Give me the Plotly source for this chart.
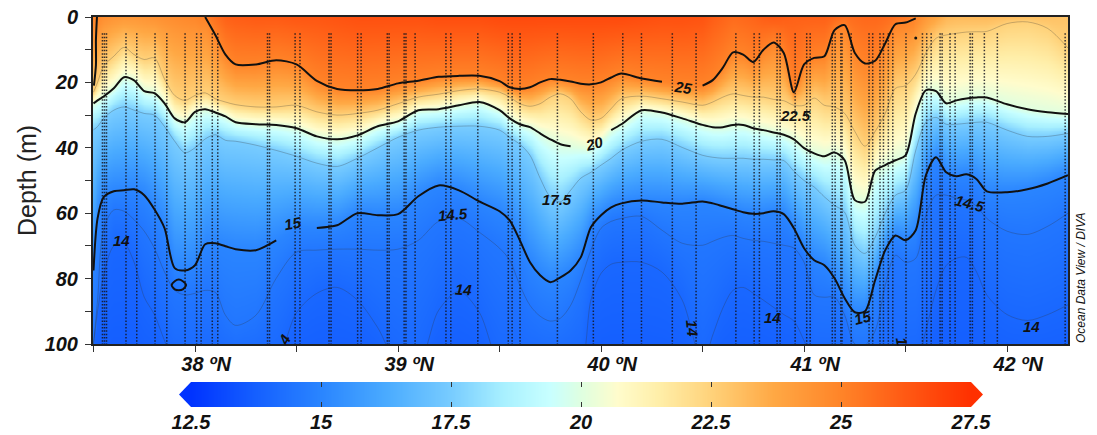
import numpy as np
import plotly.graph_objects as go

W, H = 1097, 435
lat_nodes = [37.50,37.52,37.55,37.60,37.65,37.70,37.75,37.80,37.85,37.90,37.95,38.00,
             38.05,38.10,38.15,38.20,
             38.30,38.40,38.50,38.60,38.70,38.80,38.90,39.00,39.10,39.20,39.30,
             39.40,39.50,
             39.55,39.60,39.65,39.70,39.75,39.80,39.85,39.90,39.95,40.00,40.05,40.10,
             40.20,40.30,40.40,40.50,
             40.55,40.60,40.65,40.70,40.75,40.80,40.85,40.90,40.95,41.00,41.05,41.10,41.15,41.20,
             41.25,41.30,41.35,41.40,41.45,41.50,41.55,41.60,41.65,41.70,41.75,41.80,41.85,41.90,
             42.00,42.10,42.20,42.30]
sst = [25,24.9,24.6,24.4,24.3,24.3,24.4,24.5,24.6,24.7,24.8,24.9,
       25.2,25.6,26,26.1,
       26.2,26.2,26.3,26.3,26.4,26.5,26.5,26.5,26.5,26.6,26.6,
       26.6,26.7,
       26.7,26.7,26.7,26.7,26.7,26.7,26.7,26.7,26.7,26.7,26.7,26.7,
       26.6,26.5,26.5,26.4,
       26.1,25.9,25.7,25.8,25.9,26.1,26.2,26.1,26,26,26,26,25.8,25.6,
       25.7,25.8,25.8,25.7,25.5,25.3,24.9,24.3,23.8,23.3,23.2,23.2,23.2,23.2,
       23.1,23,23,22.9]
d25 = [0,0,0,0,0,0,0,0,0,0,0,0,
       0,5.5,11.5,14.5,
       14.5,13.2,14.5,19.5,22,22.4,22,20.3,19.5,18.3,18,
       18,19.6,
       21.5,22,21.5,20,19,19.2,19.7,20.4,20.6,20,18.5,17.3,
       18.8,19.8,20.7,21,
       19.3,15.5,10.8,11.5,13.8,10,7.8,11,23,14.5,12.5,12,4,2.5,
       11,14.2,13.4,8,2.2,1.7,0.4,0,0,0,0,0,0,0,
       0,0,0,0]
d225 = [23,20,15,12,9.3,11.5,13,12.5,19,24,25.5,24,
        23.2,25,26,26.8,
        27.5,27.5,27,29,30,29.5,28.5,26.5,24.5,23.6,22.5,
        22,23,
        24.5,26.5,27.3,26.5,24.5,23.5,25,29,31.5,31,28,25,
        24.2,25,26,27,
        26,24.5,23.5,24,24.5,24.5,25.2,25.6,27,27,24.8,27,27.5,29.5,
        35,39.5,35,29.5,21.8,21,17.5,11,6.5,5.5,5,4.6,4.5,4.4,
        2,1.5,3.5,9.5]
d20 = [26.4,25.5,24.3,21.8,18.4,19.4,22.7,23.3,26.4,31,32.2,29,
       28.2,29.2,30.4,32.2,
       32.8,33,34,36.5,37.4,36.2,33.4,31.9,28.5,28.2,27,
       26,28.5,
       31,32.8,33.7,35.6,37.4,38.9,39.5,40,40.5,37.7,34.6,32.8,
       28.5,29.2,31,33,
       33.7,33.7,33,33,34,34.6,35.3,36,37.4,40.1,41.7,42.6,41.4,43.8,
       56,56.5,47,45.3,43.8,42.3,29.5,22.4,22.7,26.4,25.5,24.9,24.6,24.6,
       26.7,28.2,29.1,29.7]
d175 = [34.5,33.5,31,28.5,27.5,28.5,29.5,30,33.5,38,41.5,40,
        37.3,36,37.7,38,
        39.2,40.8,42.6,44.7,45.7,43.2,40,36.8,34.6,33.7,33.4,
        33.4,34.6,
        36.8,38.9,42.3,49.3,55,56.5,53,49.3,47.5,45.3,43.2,40.8,
        38,37.4,39.9,42.3,
        42.9,43.2,43.2,43.2,43.5,43.5,43.7,43.9,47.2,50,52,55,57.6,59.7,
        69.8,72.3,67.4,60,54.5,53,40.8,32.2,30.7,32.8,32.8,32.5,32.2,32.2,
        34.6,36.5,36.5,35.6]
d15 = [77.5,61.6,55.1,53.3,53,52.7,54.5,58.8,64.6,76.8,77.5,75.9,
       69.5,69.2,70.1,71,
       71.3,68.3,64.3,64.5,63.7,60,60.6,60.3,54.8,51.5,53,
       56.4,59.4,
       62.2,68.3,75,79,81.1,79.6,77.5,73.5,64.3,60.6,58.2,57,
       56.1,56.7,57.1,56.4,
       57,57.9,58.8,59.7,60.2,60,59.4,60.3,64.6,70.7,74.4,75.9,79.9,86,
       90.3,90,80.5,71.3,66.8,68.3,65.2,48.4,42.9,47.5,48.7,48.1,49.6,53.3,
       53.6,52.7,50.9,48.4]
d145 = [100,86.6,65,59,59.4,62,65.5,70.7,78,83.6,85,84.5,
        83.6,84.2,91.2,94.3,
        91.2,79.9,71.9,71.3,71,71,71.3,71,68.3,62.5,61.6,
        65.8,70.7,
        74.4,82,88.2,91.5,93,92.1,88.2,80.5,71.3,64.6,62.5,61.6,
        61,65.2,69.2,69.8,
        68.6,67.4,66.8,67.7,68.3,68.6,69.2,69.8,70.7,75,85,85.7,85.7,91.2,
        100,100.3,96,82,72.9,75,73.8,60.6,54.5,54.5,55.4,56,57.9,61.6,
        65.5,66.5,64,60]
d14 = [100,90,79,70,69.2,75,85.7,91,99,106,106,106,
       106,106,106,106,
       106,105,90.4,84.5,82.7,86.6,95,106,106,89.7,83.9,
       90.3,106,
       106,106,106,106,106,106,106,106,86.6,78.4,75.6,75,
       75,78,86.6,106,
       97.3,89,83.6,82.7,84.5,86.6,88.8,91,93,99,106,106,106,106,
       106,106,106,106,106,106,106,95.8,83.6,76,73.8,73.5,78,85,
       91,92.8,91,88]
bottom_temp = 13.6

loop15_lat = [37.885,37.90,37.92,37.94,37.956,37.94,37.92,37.90,37.885]
loop15_depth = [82,80.8,80.3,80.8,82,83.3,83.6,83.3,82]
left25_lat = [37.517,37.512,37.512,37.502]
left25_depth = [0,7,14.7,21]
spot_lat = [41.55]
spot_depth = [6.4]

stations = [37.544,37.554,37.564,37.660,37.713,37.803,37.861,37.951,38.008,38.030,38.085,38.112,
            38.357,38.367,38.493,38.517,38.660,38.670,38.801,38.818,38.947,38.956,39.030,39.039,
            39.084,39.236,39.260,39.393,39.543,39.562,39.601,39.785,39.962,40.107,40.199,40.351,
            40.468,40.664,40.754,40.780,40.867,40.882,40.956,41.013,41.030,41.139,41.153,41.181,
            41.187,41.232,41.320,41.338,41.374,41.391,41.415,41.437,41.502,41.583,41.604,41.626,
            41.670,41.680,41.719,41.744,41.818,41.829,41.888,41.952,42.286]
station_top, station_bottom = 5, 100

labels = ["25","20","15","14","14.5","17.5","14","14","14","22.5","15","14.5","14","4","1"]
label_lat = [40.404,39.966,38.478,37.64,39.27,39.783,39.32,40.448,40.842,40.96,41.29,41.818,42.12,38.44,41.48]
label_depth = [21.5,38.6,63,68.3,60.3,55.7,83.3,95,92,30,91.8,57,94.6,98.5,99]
label_angle = [8,-15,-10,0,-5,0,3,85,0,0,-15,15,0,-60,80]

x_ticks = [37.5,38,38.5,39,39.5,40,40.5,41,41.5,42]
x_ticktext = ["","38 ºN","","39 ºN","","40 ºN","","41 ºN","","42 ºN"]
y_ticks = [0,10,20,30,40,50,60,70,80,90,100]
y_ticktext = ["0","","20","","40","","60","","80","","100"]
cb_ticks = [12.5,15,17.5,20,22.5,25,27.5]
cb_ticktext = ["12.5","15","17.5","20","22.5","25","27.5"]
cb_levels = [12.5,13.75,15,16.25,17.5,18.5,19.4,20,20.7,21.5,22.5,23.7,25,26.2,27.5]
cb_colors = ["#0033ff","#1560ff","#2a85ff","#4aabff","#78ccff","#a8f0ff","#c8ffff","#dfffe0",
             "#fffccc","#ffeea8","#ffd27a","#ffa844","#ff8428","#ff5a14","#ff3000"]

colorscale = [[(v-12.5)/15, c] for v, c in zip(cb_levels, cb_colors)]

# temperature field built from the isotherm depths
lat_fine = np.arange(37.4975, 42.3025, 0.01)
depth_fine = np.arange(0, 100.5, 0.5)
lat_arr = np.array(lat_nodes)
iso = [(25.0,d25),(22.5,d225),(20.0,d20),(17.5,d175),(15.0,d15),(14.5,d145),(14.0,d14)]
iso_f = [(t, np.interp(lat_fine, lat_arr, np.array(d,float))) for t, d in iso]
sst_f = np.interp(lat_fine, lat_arr, np.array(sst,float))
field = np.zeros((len(depth_fine), len(lat_fine)))
for j in range(len(lat_fine)):
    ds, ts = [0.0], [sst_f[j]]
    for t, arr in iso_f:
        if t >= sst_f[j]:
            continue
        ds.append(max(arr[j], ds[-1] + 0.01))
        ts.append(t)
    ds.append(max(112.0, ds[-1] + 1))
    ts.append(bottom_temp)
    field[:, j] = np.interp(depth_fine, ds, ts)


def gapped(lat, depth, gap=None, keep=None):
    xs, ys = [], []
    broke = False
    for a, b in zip(lat, depth):
        if (keep and not (keep[0] <= a <= keep[1])) or (gap and gap[0] < a < gap[1]):
            if not broke:
                xs.append(None); ys.append(None); broke = True
            continue
        xs.append(a); ys.append(b); broke = False
    return xs, ys


fig = go.Figure()
fig.add_trace(go.Heatmap(x=lat_fine, y=depth_fine, z=field, coloraxis="coloraxis", zsmooth="best", hoverinfo="skip"))

thin = dict(color="rgba(50,50,50,0.4)", width=0.7, shape="spline", smoothing=0.9)
for d in (d225, d175, d145, d14):
    fig.add_trace(go.Scatter(x=lat_nodes, y=d, mode="lines", line=thin, hoverinfo="skip"))

sx, sy = [], []
for s in stations:
    sx += [s, s, None]
    sy += [station_top, station_bottom, None]
fig.add_trace(go.Scatter(x=sx, y=sy, mode="lines", hoverinfo="skip",
                         line=dict(color="rgba(20,20,30,0.85)", width=1.5, dash="1.5px,1.8px")))

thick = dict(color="#111111", width=2, shape="spline", smoothing=0.8)
for xy in (gapped(lat_nodes, d25, gap=(40.33, 40.47), keep=(38.05, 41.56)),
           gapped(lat_nodes, d20, gap=(39.89, 40.03)),
           gapped(lat_nodes, d15, gap=(38.43, 38.54)),
           (loop15_lat, loop15_depth),
           (left25_lat, left25_depth)):
    fig.add_trace(go.Scatter(x=xy[0], y=xy[1], mode="lines", line=thick, hoverinfo="skip"))
fig.add_trace(go.Scatter(x=spot_lat, y=spot_depth, mode="markers", hoverinfo="skip",
                         marker=dict(color="#111111", size=3)))

# colour bar
cb_vals = np.linspace(12.5, 27.5, 301)
fig.add_trace(go.Heatmap(x=cb_vals, y=[0, 1], z=[cb_vals, cb_vals], coloraxis="coloraxis",
                         xaxis="x2", yaxis="y2", zsmooth="best", hoverinfo="skip"))

FONT = "Liberation Sans"
bi = lambda size, color="#111111": dict(family=FONT, size=size, color=color, weight="bold", style="italic")
dx = [93/W, 1068/W]
dy = [1-344/H, 1-17/H]
cbx = [191/W, 971/W]
cby = [1-407/H, 1-382/H]

anns = [dict(x=a, y=b, text=t, textangle=r, showarrow=False, xref="x", yref="y", font=bi(15))
        for t, a, b, r in zip(labels, label_lat, label_depth, label_angle)]
anns.append(dict(x=27/W, y=1-181/H, xref="paper", yref="paper", text="Depth (m)", textangle=-90, showarrow=False,
                 xanchor="center", yanchor="middle", font=dict(family=FONT, size=25, color="#222222")))
anns.append(dict(x=1081/W, y=1-278/H, xref="paper", yref="paper", text="Ocean Data View / DIVA", textangle=-90,
                 xanchor="center", yanchor="middle", showarrow=False,
                 font=dict(family=FONT, size=12, color="#111111", style="italic")))

py = (1-382/H + 1-407/H)/2
shapes = [
    dict(type="path", xref="paper", yref="paper", line_width=0, fillcolor="#0033ff", layer="above",
         path=f"M {191/W} {cby[1]} L {179/W} {py} L {191/W} {cby[0]} Z"),
    dict(type="path", xref="paper", yref="paper", line_width=0, fillcolor="#ff3000", layer="above",
         path=f"M {971/W} {cby[1]} L {983/W} {py} L {971/W} {cby[0]} Z"),
]

fig.update_layout(
    width=W, height=H, margin=dict(l=0, r=0, t=0, b=0, pad=0), paper_bgcolor="white", plot_bgcolor="white",
    showlegend=False, annotations=anns, shapes=shapes,
    coloraxis=dict(cmin=12.5, cmax=27.5, colorscale=colorscale, showscale=False),
    xaxis=dict(domain=dx, range=[37.4975, 42.3], tickmode="array", tickvals=x_ticks, automargin=False,
               ticktext=["\u00a0\u00a0\u00a0\u00a0" + t if t else t for t in x_ticktext],
               ticks="outside", ticklen=6, tickwidth=1, tickcolor="#333333", tickfont=bi(20),
               showline=True, linecolor="#222222", linewidth=2, mirror=True, showgrid=False, zeroline=False,
               anchor="y", ticklabelstandoff=-5),
    yaxis=dict(domain=dy, range=[100, 0], tickmode="array", tickvals=y_ticks, ticktext=y_ticktext, automargin=False,
               ticks="outside", ticklen=6, tickwidth=1, tickcolor="#333333", tickfont=bi(20),
               showline=True, linecolor="#222222", linewidth=2, mirror=True, showgrid=False, zeroline=False,
               anchor="x", ticklabelstandoff=3),
    xaxis2=dict(domain=cbx, range=[12.5, 27.5], tickmode="array", tickvals=cb_ticks, ticktext=cb_ticktext, automargin=False,
                ticks="inside", ticklen=5, tickwidth=1, tickcolor="#333333", tickfont=bi(20),
                showline=False, showgrid=False, zeroline=False, anchor="y2", ticklabelstandoff=1),
    yaxis2=dict(domain=cby, range=[0, 1], showticklabels=False, ticks="", showgrid=False, zeroline=False, anchor="x2", automargin=False),
    xaxis3=dict(domain=cbx, range=[12.5, 27.5], overlaying="x2", side="top", tickmode="array", tickvals=cb_ticks, automargin=False,
                showticklabels=False, ticks="inside", ticklen=5, tickwidth=1, tickcolor="#333333",
                showline=False, showgrid=False, zeroline=False, anchor="y2"),
)
# an invisible trace keeps the upper colour-bar axis on the page
fig.add_trace(go.Scatter(x=[12.5], y=[0], mode="markers", marker=dict(opacity=0), xaxis="x3", yaxis="y2", hoverinfo="skip"))

fig.write_html("out.html", config=dict(displayModeBar=False),
               post_script="document.body.style.margin='0';document.body.style.overflow='hidden';")
